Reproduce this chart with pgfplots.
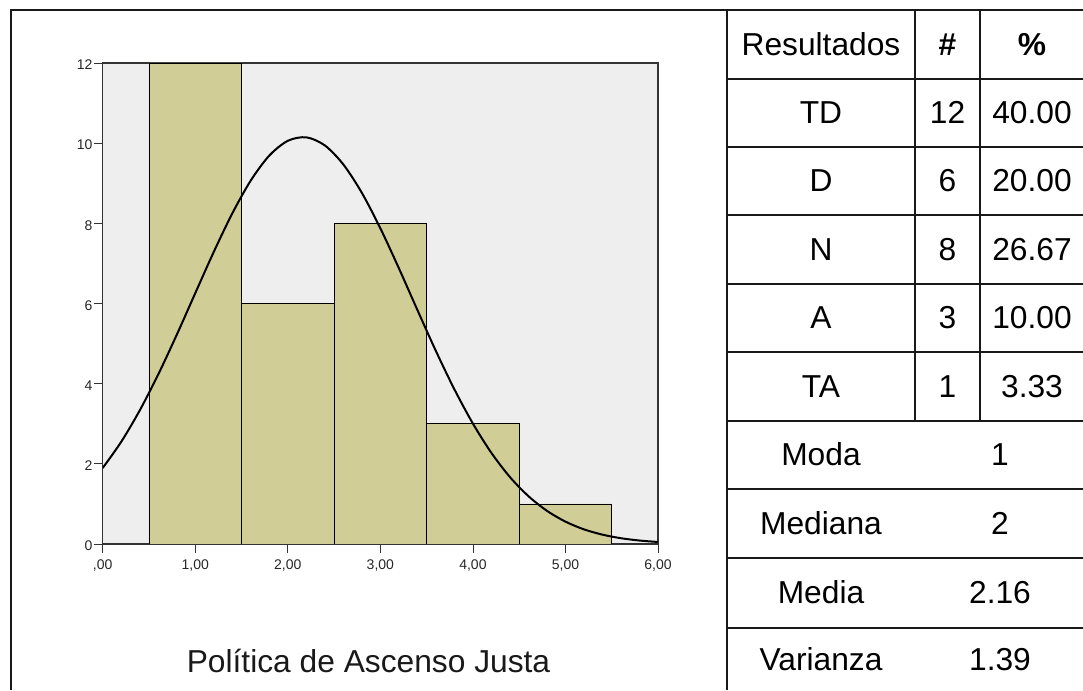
\documentclass[border=0pt]{standalone}
\usepackage{fontspec}
\setmainfont{Liberation Sans}
\usepackage{pgfplots}
\pgfplotsset{compat=1.18}
\definecolor{barfill}{RGB}{209,205,150}
\definecolor{plotbg}{RGB}{238,238,238}
\definecolor{lin}{RGB}{25,25,25}
\begin{document}
\begin{tikzpicture}[x=0.75pt,y=0.75pt]
\useasboundingbox (0,0) rectangle (1083,690);
\coordinate (O) at (102.7,146);
% outer frame and table grid
\draw[lin, line width=1.5pt] (11,0) -- (11,680) -- (1083,680);
\draw[lin, line width=1.5pt] (727,0) -- (727,680);
\draw[lin, line width=1.5pt] (915,269) -- (915,680);
\draw[lin, line width=1.5pt] (980,269) -- (980,680);
\foreach \yy in {611,543,475,406,338,269,201,132,62}
  \draw[lin, line width=1.5pt] (727,\yy) -- (1083,\yy);
% table text
\begingroup
\fontsize{23.8pt}{28pt}\selectfont
\node[anchor=base, inner sep=0pt] at (821,634.5) {Resultados};
\node[anchor=base, inner sep=0pt] at (947.5,634.5) {\textbf{\#}};
\node[anchor=base, inner sep=0pt] at (1032,634.5) {\textbf{\%}};
\node[anchor=base, inner sep=0pt] at (821,566) {TD};
\node[anchor=base, inner sep=0pt] at (947.5,566) {12};
\node[anchor=base, inner sep=0pt] at (1032,566) {40.00};
\node[anchor=base, inner sep=0pt] at (821,498) {D};
\node[anchor=base, inner sep=0pt] at (947.5,498) {6};
\node[anchor=base, inner sep=0pt] at (1032,498) {20.00};
\node[anchor=base, inner sep=0pt] at (821,429.5) {N};
\node[anchor=base, inner sep=0pt] at (947.5,429.5) {8};
\node[anchor=base, inner sep=0pt] at (1032,429.5) {26.67};
\node[anchor=base, inner sep=0pt] at (821,361) {A};
\node[anchor=base, inner sep=0pt] at (947.5,361) {3};
\node[anchor=base, inner sep=0pt] at (1032,361) {10.00};
\node[anchor=base, inner sep=0pt] at (821,292.5) {TA};
\node[anchor=base, inner sep=0pt] at (947.5,292.5) {1};
\node[anchor=base, inner sep=0pt] at (1032,292.5) {3.33};
\node[anchor=base, inner sep=0pt] at (821,224) {Moda};
\node[anchor=base, inner sep=0pt] at (1000,224) {1};
\node[anchor=base, inner sep=0pt] at (821,155.5) {Mediana};
\node[anchor=base, inner sep=0pt] at (1000,155.5) {2};
\node[anchor=base, inner sep=0pt] at (821,86) {Media};
\node[anchor=base, inner sep=0pt] at (1000,86) {2.16};
\node[anchor=base, inner sep=0pt] at (821,20) {Varianza};
\node[anchor=base, inner sep=0pt] at (1000,20) {1.39};
\node[anchor=base, inner sep=0pt, text=black!90] at (368.5,17) {Política de Ascenso Justa};
\endgroup
\begin{axis}[
  at={(O)}, anchor=south west,
  scale only axis, width=416.5pt, height=360.75pt,
  xmin=0, xmax=6, ymin=0, ymax=12,
  axis background/.style={fill=plotbg},
  xtick={0,1,2,3,4,5,6},
  xticklabels={{,00},{1,00},{2,00},{3,00},{4,00},{5,00},{6,00}},
  ytick={0,2,4,6,8,10,12},
  tick align=outside, tick pos=left, major tick length=6.5pt,
  ticklabel style={font=\fontsize{10.5pt}{12pt}\selectfont, text=black!85},
  yticklabel style={inner sep=1pt, yshift=-1.5pt},
  xticklabel style={inner sep=2pt, yshift=-3pt},
  /pgf/number format/assume math mode=true,
  axis line style={black!80, line width=0.8pt},
  tick style={black!80, line width=0.6pt},
]
\addplot[ybar, bar width=1, bar shift=0pt, fill=barfill, draw=black, line width=0.6pt]
  coordinates {(1,12) (2,6) (3,8) (4,3) (5,1)};
\addplot[smooth, no marks, black, line width=1.5pt] coordinates {
(0.0,1.896) (0.2,2.549) (0.4,3.332) (0.6,4.230) (0.8,5.219) (1.0,6.257)
(1.2,7.287) (1.4,8.247) (1.6,9.069) (1.8,9.690) (2.0,10.059) (2.2,10.146)
(2.4,9.944) (2.6,9.469) (2.8,8.761) (3.0,7.876) (3.2,6.880) (3.4,5.839)
(3.6,4.815) (3.8,3.858) (4.0,3.004) (4.2,2.272) (4.4,1.670) (4.6,1.193)
(4.8,0.828) (5.0,0.558) (5.2,0.365) (5.4,0.233) (5.6,0.144) (5.8,0.0865) (6.0,0.050)};
\end{axis}
\end{tikzpicture}
\end{document}
